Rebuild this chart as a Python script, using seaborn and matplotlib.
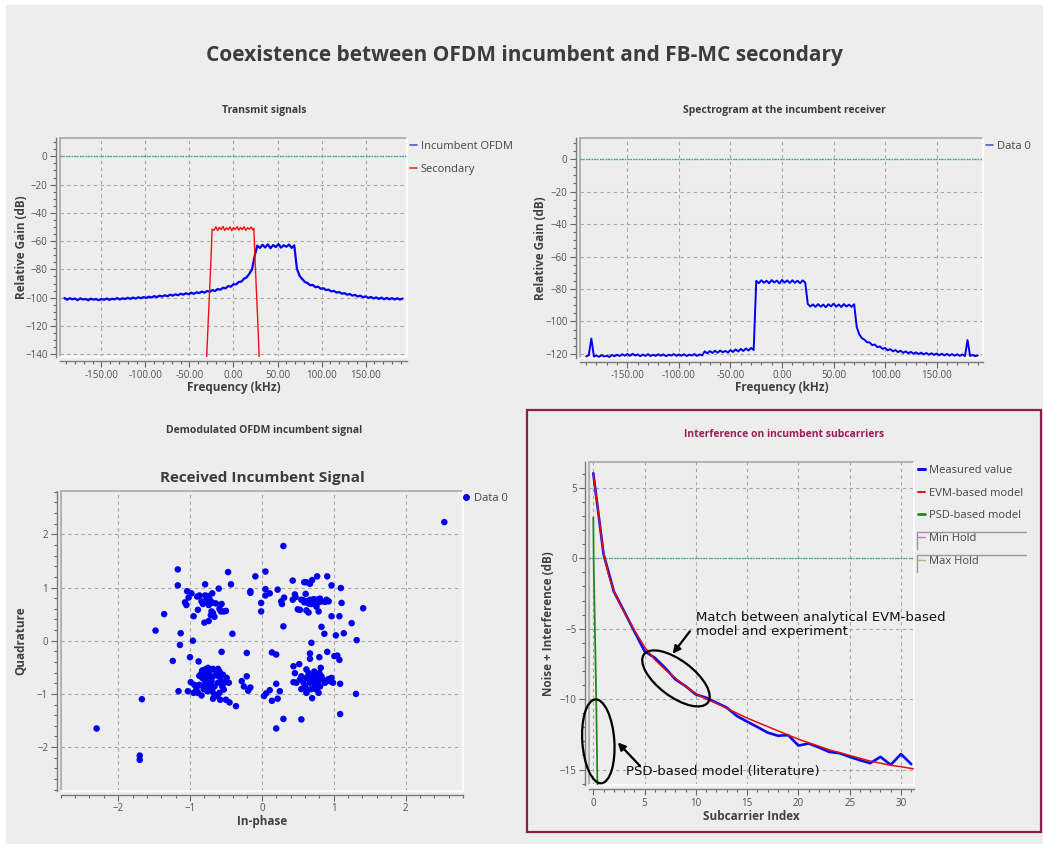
import numpy as np
import matplotlib
matplotlib.use("Agg")
import matplotlib.pyplot as plt
import matplotlib.transforms as mtransforms
from matplotlib.patches import Ellipse, Rectangle
from matplotlib.lines import Line2D
from matplotlib.ticker import MultipleLocator, FormatStrFormatter
import seaborn as sns

# ---------------- data ----------------
# Transmit signals: incumbent OFDM spectrum, bins spread evenly over -192..192 kHz
tx_incumbent_db = [
    -100.2, -101.5, -100.4, -101.2, -100.6, -101.8, -100.5, -101.3, -100.9, -101.9,
    -100.7, -101.4, -101.0, -101.8, -100.9, -101.5, -100.6, -101.6, -100.8, -101.2,
    -100.3, -101.3, -100.4, -101.0, -100.1, -100.9, -99.9, -100.7, -99.7, -100.4,
    -99.6, -100.2, -99.3, -99.9, -98.9, -99.6, -98.6, -99.2, -98.3, -99.0,
    -97.9, -98.6, -97.6, -98.3, -97.2, -97.9, -96.9, -97.6, -96.5, -97.3,
    -96.2, -96.8, -95.7, -96.5, -95.3, -95.9, -94.6, -95.3, -93.9, -94.4,
    -93.0, -93.4, -91.8, -92.2, -90.5, -90.6, -88.9, -88.6, -86.6, -85.6,
    -83.0, -80.0, -70.5, -63.2, -64.8, -62.6, -64.5, -62.3, -65.0, -62.8,
    -64.2, -62.1, -64.6, -62.9, -64.0, -62.4, -64.8, -63.0, -79.5, -84.5,
    -86.8, -88.9, -89.6, -91.2, -91.0, -92.6, -92.2, -93.7, -93.3, -94.6,
    -94.3, -95.6, -95.2, -96.4, -96.0, -97.2, -96.8, -97.9, -97.4, -98.6,
    -98.0, -99.2, -98.6, -99.7, -99.1, -100.2, -99.5, -100.6, -99.8, -100.9,
    -100.0, -101.1, -100.2, -101.2, -100.3, -101.3, -100.4, -101.4, -100.6,
]
tx_incumbent_range_khz = [-192, 192]

tx_secondary_khz = [-30.5, -29.5, -28.5, -27.5, -26.5, -25.5, -24.8, -24.3,
                    -22, -20, -18, -16, -14, -12, -10, -8, -6, -4, -2, 0,
                    2, 4, 6, 8, 10, 12, 14, 16, 18, 20, 22, 23.1,
                    23.8, 24.6, 25.5, 26.5, 27.5, 28.3, 29.1]
tx_secondary_db = [-142, -128, -114, -100, -86, -72, -60, -51.5,
                   -52.3, -49.8, -52.5, -50.2, -51.8, -49.6, -52.4, -50.6, -51.9, -49.9, -52.6, -50.4,
                   -51.7, -49.7, -52.2, -50.3, -51.9, -49.8, -52.4, -50.5, -51.6, -50.0, -52.1, -51.0,
                   -62, -75, -88, -102, -116, -128, -142]

# Spectrogram at the incumbent receiver, bins spread evenly over -190..190 kHz
rx_db = [
    -121.5, -120.8, -110.5, -121.6, -121.0, -121.8, -120.7, -121.6, -121.1, -121.9,
    -120.6, -121.4, -120.5, -121.3, -120.2, -121.1, -120.0, -121.2, -119.9, -121.0,
    -120.3, -121.4, -120.4, -121.2, -120.1, -121.3, -120.5, -121.2, -120.2, -121.1,
    -120.3, -121.4, -120.4, -121.0, -120.1, -121.2, -120.3, -121.1, -120.2, -121.3,
    -120.4, -121.0, -120.1, -121.2, -120.3, -120.9, -118.4, -119.6, -118.2, -119.4,
    -118.0, -119.3, -117.9, -119.0, -118.1, -119.2, -117.6, -118.8, -117.2, -118.5,
    -116.9, -118.2, -116.6, -117.9, -116.3, -117.6, -75.0, -76.4, -74.6, -76.2,
    -74.9, -76.5, -74.5, -76.0, -74.8, -76.6, -74.4, -76.1, -74.7, -76.3,
    -74.6, -76.2, -74.9, -76.4, -74.7, -76.0, -89.2, -90.8, -89.5, -91.0,
    -89.3, -90.9, -89.6, -91.2, -89.4, -90.7, -89.1, -90.9, -89.5, -91.1,
    -89.3, -90.8, -89.6, -91.0, -89.4, -103.5, -108.0, -110.3, -111.2, -112.8,
    -112.9, -114.6, -114.2, -115.8, -115.4, -116.9, -116.3, -117.8, -117.0, -118.4,
    -117.6, -118.9, -118.0, -119.3, -118.4, -119.6, -118.7, -119.9, -119.0, -120.1,
    -119.2, -120.3, -119.4, -120.5, -119.6, -120.6, -119.7, -120.8, -119.9, -120.9,
    -120.0, -121.0, -120.1, -121.1, -120.2, -121.2, -120.3, -121.3, -111.5, -121.2,
    -120.6, -121.4, -120.9,
]
rx_range_khz = [-190, 190]

# Demodulated constellation (in-phase, quadrature)
const_i = [
    2.54, 0.30, -2.30, -1.70, -1.70, -1.67, -1.17, -1.17, -0.47, -0.43,
    -0.09, 0.05, -1.36, -1.48, -1.13, -1.14, -1.24, -0.96, -1.00, -0.88,
    -0.41, -0.56, -0.21, 0.14, 0.20, 0.30, -0.36, 0.20, 0.30, 0.55,
    1.09, 1.31, 1.32, 1.41, 1.25, 1.14, 1.03, 1.11, 1.10, 0.97,
    0.91, 0.77, 0.70, 0.62, 0.59, 0.67, 0.43, 1.08, 0.97, 0.83,
    0.87, 0.91, 1.01, 1.05, 1.08, 1.09, 0.70, 0.69, 0.67, 0.67,
    0.80, 0.44, 0.46, 0.44, 0.52, -0.01, -0.01, -0.16, -0.16, 0.05,
    0.05, 0.11, 0.22, 0.27, 0.28, 0.31, 0.46, 0.47, 0.43, -0.28,
    -0.25, -0.19, -0.16, -0.21, 0.03, 0.06, 0.11, 0.14, 0.22, 0.25,
    0.20,
    # upper-left cluster
    -1.04, -0.98, -1.02, -1.07, -1.05, -0.95, -0.89, -0.87, -0.90, -0.79,
    -0.79, -0.75, -0.73, -0.69, -0.72, -0.69, -0.72, -0.82, -0.70, -0.71,
    -0.68, -0.74, -0.80, -0.59, -0.57, -0.53, -0.50, -0.56, -0.60, -0.74,
    -0.76, -0.77, -0.66, -0.64, -0.84,
    # upper-right cluster
    0.55, 0.59, 0.58, 0.62, 0.65, 0.66, 0.69, 0.72, 0.74, 0.76,
    0.79, 0.81, 0.84, 0.88, 0.90, 0.93, 0.79, 0.65, 0.62, 0.53,
    0.50, 0.67, 0.76, 0.61, 0.80, 0.72,
    # lower-left cluster
    -0.87, -0.84, -0.81, -0.79, -0.77, -0.76, -0.75, -0.73, -0.72, -0.80,
    -0.83, -0.74, -0.70, -0.68, -0.66, -0.63, -0.61, -0.59, -0.60, -0.56,
    -0.55, -0.52, -0.49, -0.46, -0.53, -0.59, -0.62, -0.68, -0.69, -0.76,
    -0.81, -0.84, -0.89, -0.91, -0.94, -0.87, -0.75, -0.68, -0.54, -0.50,
    -0.45, -0.58, -0.66, -0.80, -0.73, -0.78, -0.83, -0.61, -1.03, -0.99,
    -0.95, -1.16,
    # lower-right cluster
    0.53, 0.58, 0.60, 0.62, 0.65, 0.67, 0.69, 0.72, 0.74, 0.76,
    0.79, 0.81, 0.73, 0.82, 0.80, 0.85, 0.88, 0.93, 0.97, 0.99,
    0.95, 0.76, 0.79, 0.76, 0.69, 0.65, 0.59, 0.48, 0.55, 0.62,
    0.74, 0.67, 0.77, 0.80, 0.83, 0.62, 0.55,
]
const_q = [
    2.23, 1.78, -1.65, -2.16, -2.24, -1.10, 1.34, 1.04, 1.29, 1.06,
    1.21, 1.30, 0.50, 0.19, 0.14, -0.08, -0.38, 0.00, -0.31, -0.39,
    0.13, -0.21, -0.23, -0.22, -0.26, 0.27, -1.23, -1.65, -1.47, -1.48,
    -1.38, -1.00, 0.01, 0.61, 0.33, 0.14, 0.10, 0.71, 0.99, 1.04,
    1.21, 1.21, 1.14, 1.10, 1.10, 1.07, 1.13, 0.46, 0.46, 0.26,
    0.13, -0.21, -0.29, -0.28, -0.36, -0.81, -1.08, -0.04, -0.24, -0.34,
    -0.31, -0.48, -0.61, -0.78, -0.44, 0.71, 0.55, 0.93, 0.90, 0.97,
    0.85, 0.89, 0.96, 0.74, 0.69, 0.81, 0.87, 0.82, 0.77, -0.76,
    -0.86, -0.94, -0.88, -0.67, -1.04, -0.99, -0.93, -1.13, -1.09, -0.95,
    -0.81,
    # upper-left cluster
    0.93, 0.89, 0.81, 0.72, 0.67, 0.46, 0.58, 0.85, 0.83, 1.06,
    0.85, 0.84, 0.79, 0.89, 0.70, 0.72, 0.74, 0.69, 0.55, 0.48,
    0.52, 0.37, 0.34, 0.60, 0.55, 0.55, 0.56, 0.69, 0.98, 0.67,
    0.80, 0.74, 0.45, 0.70, 0.74,
    # upper-right cluster
    0.77, 0.72, 0.76, 0.74, 0.70, 0.71, 0.69, 0.74, 0.70, 0.77,
    0.72, 0.79, 0.74, 0.73, 0.77, 0.74, 0.55, 0.53, 0.57, 0.58,
    0.59, 0.77, 0.64, 0.88, 0.78, 0.78,
    # lower-left cluster
    -0.66, -0.61, -0.64, -0.54, -0.58, -0.67, -0.62, -0.72, -0.56, -0.73,
    -0.70, -0.79, -0.76, -0.67, -0.86, -0.61, -0.53, -0.58, -0.67, -0.76,
    -0.86, -0.79, -0.70, -0.79, -0.92, -0.98, -1.04, -1.09, -0.95, -0.95,
    -0.91, -1.03, -0.98, -0.91, -0.83, -0.83, -0.51, -0.53, -0.64, -1.11,
    -1.16, -1.11, -1.01, -0.83, -0.86, -0.67, -0.56, -0.79, -0.95, -0.78,
    -0.98, -0.95,
    # lower-right cluster
    -0.73, -0.79, -0.86, -0.70, -0.61, -0.79, -0.67, -0.73, -0.83, -0.66,
    -0.76, -0.86, -0.58, -0.51, -0.70, -0.73, -0.79, -0.72, -0.70, -0.79,
    -0.76, -0.92, -0.98, -0.86, -0.91, -0.92, -0.89, -0.79, -0.67, -0.54,
    -0.67, -0.73, -0.79, -0.61, -0.67, -0.98, -0.91,
]

# Interference on incumbent subcarriers
subcarrier = list(range(32))
measured_db = [6.04, 0.30, -2.35, -3.76, -5.18, -6.60, -7.07, -7.78, -8.60, -9.08,
               -9.67, -9.90, -10.25, -10.60, -11.20, -11.60, -11.98, -12.38, -12.60, -12.56,
               -13.30, -13.15, -13.43, -13.75, -13.84, -14.10, -14.34, -14.55, -14.10, -14.67,
               -13.90, -14.62]
evm_index = [0, 0.25, 0.5, 0.75, 1, 1.5, 2, 2.5, 3, 4, 5, 6, 7, 8, 9, 10, 11, 12, 13, 14,
             15, 16, 17, 18, 19, 20, 21, 22, 23, 24, 25, 26, 27, 28, 29, 30, 31.2]
evm_db = [6.0, 4.6, 3.2, 1.7, 0.4, -1.2, -2.3, -3.1, -3.8, -5.1, -6.3, -7.2, -7.9, -8.5, -9.1,
          -9.6, -10.0, -10.3, -10.65, -11.0, -11.35, -11.65, -11.95, -12.25, -12.55, -12.85,
          -13.1, -13.35, -13.6, -13.8, -14.0, -14.2, -14.4, -14.55, -14.7, -14.8, -14.95]
psd_index = [0, 0.05, 0.15, 0.25, 0.33, 0.40]
psd_db = [2.9, -1.0, -4.8, -8.5, -12.3, -16.2]

# ---------------- figure ----------------
sns.set_theme(style="white")
plt.rcParams['font.family'] = ['Open Sans', 'DejaVu Sans']

W, H, DPI = 1043, 844, 100
BG = '#ededed'
TXT = '#3c3c3c'
fig = plt.figure(figsize=(W / DPI, H / DPI), dpi=DPI, facecolor=BG)

# white margin strips at top/left like the screenshot
fig.add_artist(Rectangle((0, 1 - 5 / H), 1, 5 / H, transform=fig.transFigure,
                         color='white', lw=0, zorder=-10))
fig.add_artist(Rectangle((0, 0), 6 / W, 1, transform=fig.transFigure,
                         color='white', lw=0, zorder=-10))


def px_axes(left, top, right, bottom):
    return fig.add_axes([left / W, 1 - bottom / H, (right - left) / W, (bottom - top) / H])


def style_axes(ax, xmaj, xmin, ymaj, ymin, xfmt=None):
    ax.set_facecolor(BG)
    for s in ['top', 'right']:
        ax.spines[s].set_visible(False)
    for s in ['left', 'bottom']:
        ax.spines[s].set_position(('outward', 3))
        ax.spines[s].set_color('#7a7a7a')
        ax.spines[s].set_linewidth(1.0)
    ax.xaxis.set_major_locator(MultipleLocator(xmaj))
    ax.xaxis.set_minor_locator(MultipleLocator(xmin))
    ax.yaxis.set_major_locator(MultipleLocator(ymaj))
    ax.yaxis.set_minor_locator(MultipleLocator(ymin))
    if xfmt:
        ax.xaxis.set_major_formatter(FormatStrFormatter(xfmt))
    ax.tick_params(which='major', direction='out', length=4.5, width=0.8, color='#666666',
                   labelsize=7, labelcolor='#505050', pad=1.5, left=True, bottom=True)
    ax.tick_params(which='minor', direction='out', length=2.5, width=0.8, color='#666666',
                   left=True, bottom=True)
    ax.grid(True, which='major', color='#a5a5a5', ls=(0, (3, 3)), lw=0.8)
    ax.grid(False, which='minor')
    # sunken canvas frame
    ax.add_line(Line2D([0, 1], [1, 1], transform=ax.transAxes, color='#a8a8a8', lw=1.2, clip_on=False))
    ax.add_line(Line2D([0, 0], [0, 1], transform=ax.transAxes, color='#a8a8a8', lw=1.2, clip_on=False))
    ax.add_line(Line2D([0, 1], [0, 0], transform=ax.transAxes, color='white', lw=1.2, clip_on=False))
    ax.add_line(Line2D([1, 1], [0, 1], transform=ax.transAxes, color='white', lw=1.2, clip_on=False))


def labels(ax, xl, yl, box, xlab_y_px, ylab_x_px):
    left, top, right, bottom = box
    ax.set_xlabel(xl, fontsize=8.5, fontweight='bold', color='#404040')
    ax.set_ylabel(yl, fontsize=8.5, fontweight='bold', color='#404040')
    ax.xaxis.label.set_va('center')
    ax.yaxis.label.set_va('center')
    ax.xaxis.set_label_coords(0.5, (bottom - xlab_y_px) / (bottom - top))
    ax.yaxis.set_label_coords((ylab_x_px - left) / (right - left), 0.5)


def zero_line(ax):
    ax.axhline(0, color='#2aa6a6', ls=(0, (1, 1)), lw=1.0, zorder=2)


def side_legend(ax, handles, names, x_px, y_px, spacing=1.05):
    ax.legend(handles, names, loc='upper left', bbox_to_anchor=(x_px / W, 1 - y_px / H),
              bbox_transform=fig.transFigure, frameon=False, fontsize=8, handlelength=0.6,
              handletextpad=0.35, borderpad=0, borderaxespad=0, labelspacing=spacing,
              labelcolor='#444444')


# titles
fig.text(524 / W, 1 - 55 / H, 'Coexistence between OFDM incumbent and FB-MC secondary',
         ha='center', va='center', fontsize=15, fontweight='bold', color=TXT)
fig.text(264 / W, 1 - 111 / H, 'Transmit signals', ha='center', va='center',
         fontsize=7.5, fontweight='bold', color=TXT)
fig.text(784 / W, 1 - 111 / H, 'Spectrogram at the incumbent receiver', ha='center', va='center',
         fontsize=7.5, fontweight='bold', color=TXT)
fig.text(264 / W, 1 - 431 / H, 'Demodulated OFDM incumbent signal', ha='center', va='center',
         fontsize=7.5, fontweight='bold', color=TXT)
fig.text(784 / W, 1 - 435 / H, 'Interference on incumbent subcarriers', ha='center', va='center',
         fontsize=7.5, fontweight='bold', color='#9a1f55')
fig.text(262 / W, 1 - 478 / H, 'Received Incumbent Signal', ha='center', va='center',
         fontsize=11, fontweight='bold', color=TXT)

# border around the interference panel
fig.add_artist(Rectangle((527 / W, 1 - 832 / H), (1041 - 527) / W, (832 - 410) / H,
                         transform=fig.transFigure, fill=False, ec='#8c1d4d', lw=1.6))

# ---- panel 1: transmit signals ----
box1 = (60, 138, 407, 357)
ax1 = px_axes(*box1)
style_axes(ax1, 50, 10, 20, 5, '%.2f')
f_inc = np.linspace(tx_incumbent_range_khz[0], tx_incumbent_range_khz[1], len(tx_incumbent_db))
zero_line(ax1)
sns.lineplot(x=f_inc, y=tx_incumbent_db, ax=ax1, color='#0000ee', lw=1.6,
             estimator=None, sort=False)
sns.lineplot(x=tx_secondary_khz, y=tx_secondary_db, ax=ax1, color='#ee1111', lw=1.0,
             estimator=None, sort=False)
ax1.set_xlim(-197, 197)
ax1.set_ylim(-142, 13)
labels(ax1, 'Frequency (kHz)', 'Relative Gain (dB)', box1, 387, 22)
side_legend(ax1, [Line2D([], [], color='#5555cc', lw=1.2), Line2D([], [], color='#dd3333', lw=1.2)],
            ['Incumbent OFDM', 'Secondary'], 410, 141)

# ---- panel 2: spectrogram ----
box2 = (580, 138, 983, 358)
ax2 = px_axes(*box2)
style_axes(ax2, 50, 10, 20, 5, '%.2f')
f_rx = np.linspace(rx_range_khz[0], rx_range_khz[1], len(rx_db))
zero_line(ax2)
sns.lineplot(x=f_rx, y=rx_db, ax=ax2, color='#0000ee', lw=1.4, estimator=None, sort=False)
ax2.set_xlim(-196, 195)
ax2.set_ylim(-122.5, 13)
labels(ax2, 'Frequency (kHz)', 'Relative Gain (dB)', box2, 388, 540)
side_legend(ax2, [Line2D([], [], color='#5555cc', lw=1.2)], ['Data 0'], 986, 141)

# ---- panel 3: constellation ----
box3 = (60.7, 490.7, 463, 790.7)
ax3 = px_axes(*box3)
style_axes(ax3, 1, 0.2, 1, 0.2)
sns.scatterplot(x=const_i, y=const_q, ax=ax3, color='#0000ee', s=22, edgecolor='none', linewidth=0)
ax3.set_xlim(-2.8, 2.8)
ax3.set_ylim(-2.82, 2.82)
labels(ax3, 'In-phase', 'Quadrature', box3, 821, 21)
side_legend(ax3, [Line2D([], [], color='#0000ee', marker='o', ls='none', markersize=4)],
            ['Data 0'], 463, 493)

# ---- panel 4: interference ----
box4 = (589.3, 461.7, 914.3, 785)
ax4 = px_axes(*box4)
style_axes(ax4, 5, 1, 5, 1)
zero_line(ax4)
sns.lineplot(x=psd_index, y=psd_db, ax=ax4, color='#1f8a1f', lw=1.3, estimator=None, sort=False)
sns.lineplot(x=subcarrier, y=measured_db, ax=ax4, color='#0a0aee', lw=1.9, estimator=None, sort=False)
sns.lineplot(x=evm_index, y=evm_db, ax=ax4, color='#e01010', lw=1.1, estimator=None, sort=False)
ax4.set_xlim(-0.39, 31.3)
ax4.set_ylim(-16.1, 6.86)
labels(ax4, 'Subcarrier Index', 'Noise + Interference (dB)', box4, 816, 549)
side_legend(ax4, [Line2D([], [], color='#0a0aee', lw=2.2), Line2D([], [], color='#e01010', lw=1.4),
                  Line2D([], [], color='#1f8a1f', lw=2.0), Line2D([], [], color='#d070d0', lw=1.0),
                  Line2D([], [], color='#b8b880', lw=1.0)],
            ['Measured value', 'EVM-based model', 'PSD-based model', 'Min Hold', 'Max Hold'],
            918, 465, spacing=1.05)
# checkbox-like brackets for the hold entries
for top in (531.7, 555.0):
    fig.add_artist(Line2D([917 / W, 1026 / W], [1 - top / H, 1 - top / H], transform=fig.transFigure,
                          color='#9a9a9a', lw=1.0))
    fig.add_artist(Line2D([917 / W, 917 / W], [1 - top / H, 1 - (top + 17) / H], transform=fig.transFigure,
                          color='#9a9a9a', lw=1.0))

# annotations
ax4.text(10.0, -3.75, 'Match between analytical EVM-based\nmodel and experiment', fontsize=9.5,
         family='DejaVu Sans', color='#111111', va='top', ha='left', linespacing=1.1)
ax4.text(3.16, -15.11, 'PSD-based model (literature)', fontsize=9.5, family='DejaVu Sans',
         color='#111111', va='center', ha='left')
for (cx, cy), w, h, ang in [((8.06, -8.53), 80, 36, -37), ((0.49, -13.0), 32, 84, 4)]:
    dx, dy = ax4.transData.transform((cx, cy))
    fig.add_artist(Ellipse((dx, dy), w, h, angle=ang, transform=mtransforms.IdentityTransform(),
                           fill=False, ec='black', lw=1.6))
for (sx, sy), (ex, ey) in [((9.42, -5.18), (7.74, -6.78)), ((4.55, -14.74), (2.38, -13.08))]:
    ax4.annotate('', xy=(ex, ey), xytext=(sx, sy), annotation_clip=False,
                 arrowprops=dict(arrowstyle='-|>', color='black', lw=1.6, mutation_scale=11,
                                 shrinkA=0, shrinkB=0))

fig.savefig('out.png', dpi=DPI, facecolor=BG)
